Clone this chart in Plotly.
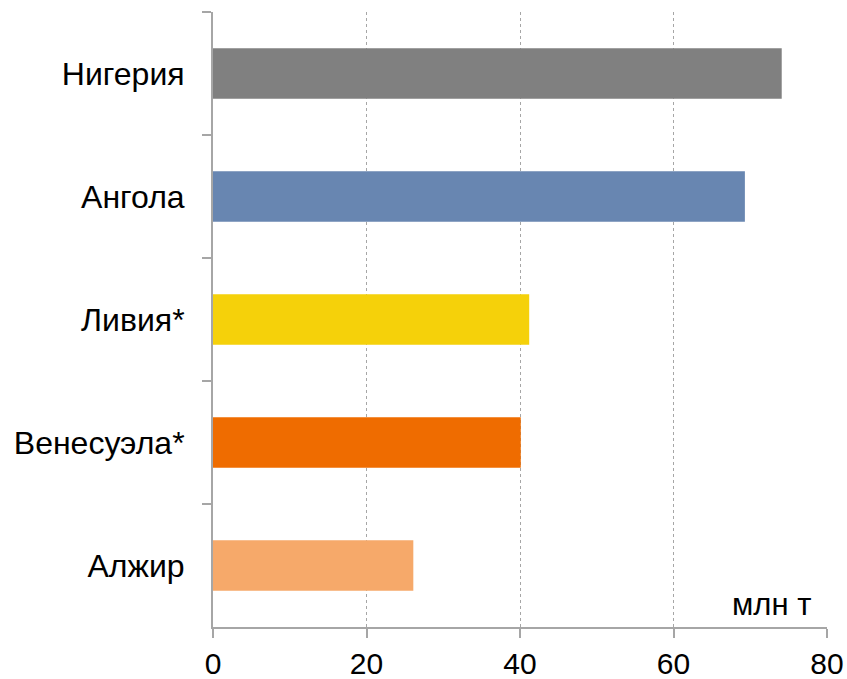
import plotly.graph_objects as go

countries = ["Нигерия", "Ангола", "Ливия*", "Венесуэла*", "Алжир"]
values = [74.1, 69.3, 41.2, 40.1, 26.1]
colors = ["#808080", "#6886b1", "#f5d10a", "#ef6c00", "#f6a96a"]
x_ticks = [0, 20, 40, 60, 80]
unit_label = "млн т"

fig = go.Figure(go.Bar(
    x=values, y=countries, orientation="h",
    marker=dict(color=colors, line=dict(width=0)),
    width=0.41,
))

fig.update_layout(
    width=847, height=679,
    margin=dict(l=213, r=20, t=12, b=52),
    plot_bgcolor="white", paper_bgcolor="white",
    font=dict(family="Liberation Sans, Arial, sans-serif", color="black"),
    showlegend=False,
    xaxis=dict(
        range=[0, 80], tickvals=x_ticks, ticktext=[str(v) for v in x_ticks],
        showgrid=True, gridcolor="#a6a6a6", griddash="dot", gridwidth=1,
        zeroline=False, showline=True, linecolor="#a6a6a6", linewidth=2,
        ticks="outside", ticklen=9, tickcolor="#a6a6a6", tickwidth=2,
        tickfont=dict(size=30), fixedrange=True, automargin=False,
    ),
    yaxis=dict(
        categoryorder="array", categoryarray=countries, autorange="reversed",
        showline=True, linecolor="#a6a6a6", linewidth=2,
        ticks="outside", ticklen=9, tickcolor="#a6a6a6", tickwidth=2,
        tickson="boundaries", showgrid=False, automargin=False,
        tickfont=dict(size=32), ticklabelstandoff=20, fixedrange=True,
    ),
    annotations=[dict(
        text=unit_label, xref="paper", yref="paper", x=0.977, y=0.036,
        xanchor="right", yanchor="middle", showarrow=False,
        font=dict(size=31, color="black"),
    )],
)

fig.write_html(
    "out.html",
    config={"displayModeBar": False, "staticPlot": True},
    post_script="document.body.style.margin='0';document.body.style.overflow='hidden';",
)
